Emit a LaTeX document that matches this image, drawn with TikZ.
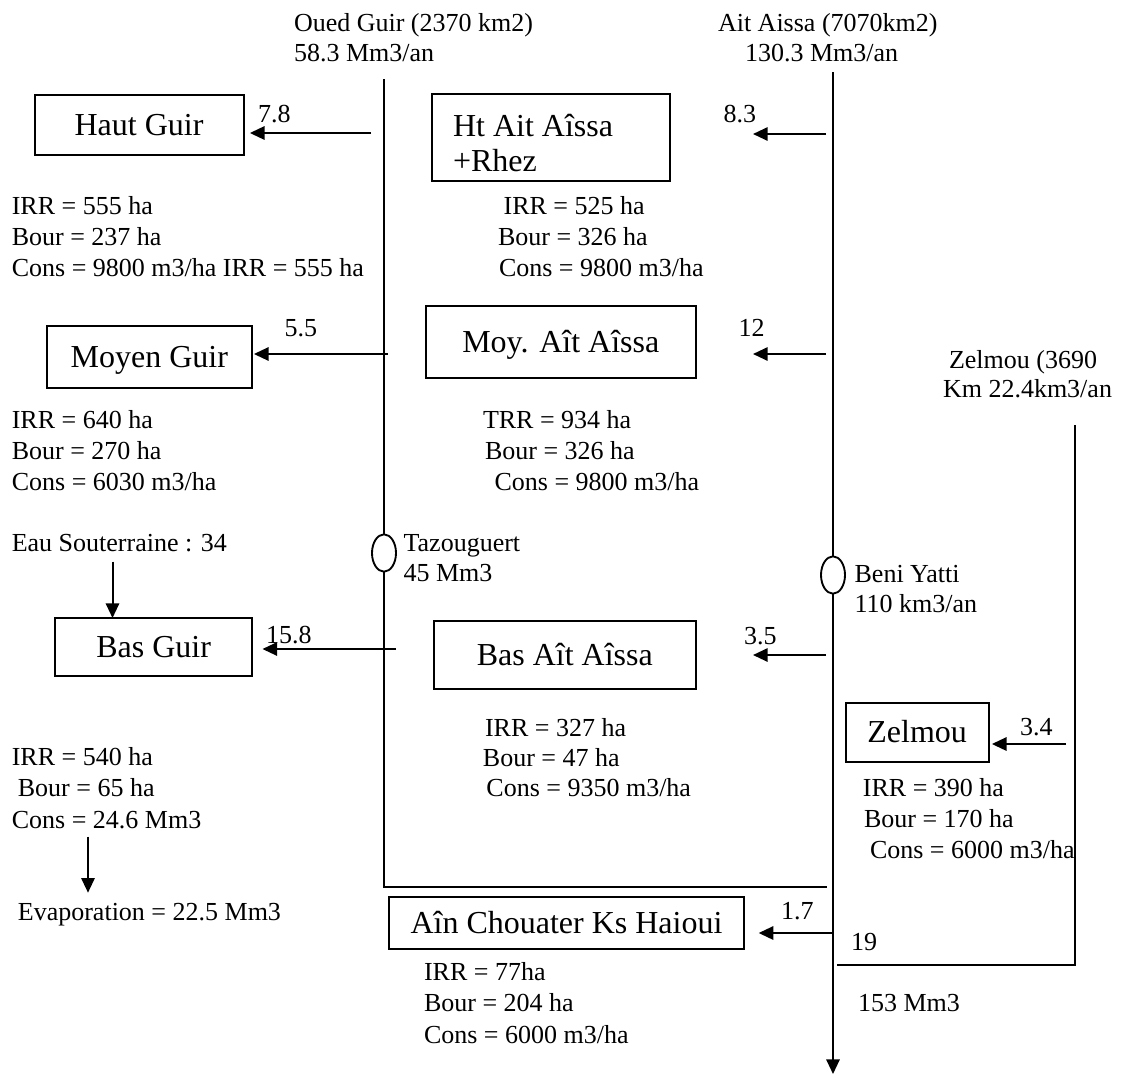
\documentclass[tikz,border=0pt]{standalone}
\usepackage{fontspec}
\setmainfont{Liberation Serif}
\usetikzlibrary{arrows.meta,shapes.geometric}
\begin{document}
\begin{tikzpicture}[x=0.75pt,y=-0.75pt,
  every node/.style={inner sep=0pt, outer sep=0pt},
  txt/.style={anchor=base west, font=\fontsize{19.5}{23}\selectfont},
  box/.style={draw, line width=1.5pt, rectangle, font=\fontsize{24}{28}\selectfont, text height=15.8pt, text depth=0pt},
  boxtxt/.style={anchor=base west, font=\fontsize{24}{28}\selectfont},
  river/.style={line width=1.5pt},
  thinriver/.style={line width=1pt},
  arr/.style={line width=1.5pt, -{Triangle[length=11pt,width=10pt]}},
  dam/.style={draw, ellipse, fill=white, line width=1.4pt, minimum width=18pt, minimum height=28pt}
]
\useasboundingbox (0,0) rectangle (1123,1075);

% ---------- boxes ----------
\node[box, minimum width=156.75pt, minimum height=45.2pt] (hautguir) at (139,125) {Haut Guir};
\node[box, minimum width=153.75pt, minimum height=46.3pt] (moyenguir) at (149.3,356.8) {Moyen Guir};
\node[box, minimum width=147.3pt, minimum height=43.5pt] (basguir) at (153.6,647) {Bas Guir};
\node[box, minimum width=178.5pt, minimum height=65.25pt] (htbox) at (551,137.5) {};
\node[boxtxt] (httext1) at (453,136) {Ht Ait Aîssa};
\node[boxtxt] (httext2) at (453,171) {+Rhez};
\node[box, minimum width=202.3pt, minimum height=54pt] (moyait) at (560.8,342) {Moy. Aît Aîssa};
\node[box, minimum width=196.3pt, minimum height=51pt] (basait) at (564.8,655) {Bas Aît Aîssa};
\node[box, minimum width=107.2pt, minimum height=44pt] (zelbox) at (917.1,732.3) {Zelmou};
\node[box, minimum width=266.25pt, minimum height=39.5pt] (aincbox) at (566.5,923) {Aîn Chouater Ks Haioui};

% ---------- rivers ----------
\coordinate (gtop) at (384,79);
\coordinate (gcorner) at (384,887);
\coordinate (gend) at (827,887);
\draw[river] (gtop) -- (gcorner) -- (gend);

\coordinate (atop) at (833,72);
\coordinate (abot) at (833,1074);
\draw[arr] (atop) -- (abot);

\coordinate (ztop) at (1075,425);
\coordinate (zcorner) at (1075,965);
\coordinate (zend) at (836.8,965);
\draw[thinriver] (ztop) -- (zcorner) -- (zend);

\node[dam] (taz) at (384,553) {};
\node[dam] (beni) at (833,575) {};

% ---------- withdrawals ----------
\coordinate (g1) at (371,133);
\draw[arr, shorten >=4.8pt] (g1) -- (g1 -| hautguir.east);
\coordinate (a1) at (826,134);
\coordinate (a1t) at (753,134);
\draw[arr] (a1) -- (a1t);
\coordinate (g2) at (387.5,354);
\draw[arr, shorten >=1.6pt] (g2) -- (g2 -| moyenguir.east);
\coordinate (a2) at (826,354);
\coordinate (a2t) at (753,354);
\draw[arr] (a2) -- (a2t);
\coordinate (g3) at (396,649);
\draw[arr, shorten >=8pt] (g3) -- (g3 -| basguir.east);
\coordinate (a3) at (826,655);
\coordinate (a3t) at (753,655);
\draw[arr] (a3) -- (a3t);
\coordinate (z1) at (1066,744);
\draw[arr, shorten >=2.5pt] (z1) -- (z1 -| zelbox.east);
\coordinate (a4) at (833,933);
\draw[arr, shorten >=11pt] (a4) -- (a4 -| aincbox.east);

% ---------- groundwater / evaporation ----------
\node[txt] (eau) at (11.8,551.7) {Eau Souterraine : 34};
\coordinate (eaus) at (112.5,561.7);
\draw[arr] (eaus) -- (eaus |- basguir.north);
\coordinate (evs) at (88,836.7);
\coordinate (eve) at (88,892.7);
\draw[arr] (evs) -- (eve);
\node[txt] (evap) at (17.9,920) {Evaporation = 22.5 Mm3};

% ---------- headers ----------
\node[txt] (og1) at (294,31) {Oued Guir (2370 km2)};
\node[txt] (og2) at (294,61) {58.3 Mm3/an};
\node[txt] (aa1) at (718,31) {Ait Aissa (7070km2)};
\node[txt] (aa2) at (745,61) {130.3 Mm3/an};
\node[txt] (zh1) at (949,368.3) {Zelmou (3690};
\node[txt] (zh2) at (943,397.3) {Km 22.4km3/an};

% ---------- flow labels ----------
\node[txt] (l78) at (258,122) {7.8};
\node[txt] (l83) at (723.6,122) {8.3};
\node[txt] (l55) at (284.6,336.7) {5.5};
\node[txt] (l12) at (738.6,336.7) {12};
\node[txt] (l158) at (266,643.3) {15.8};
\node[txt] (l35) at (744,644) {3.5};
\node[txt] (l34) at (1020,735) {3.4};
\node[txt] (l17) at (781,919.3) {1.7};
\node[txt] (l19) at (851,950.7) {19};
\node[txt] (l153) at (858,1011.7) {153 Mm3};

% ---------- dams ----------
\node[txt] (taz1) at (403.6,551.7) {Tazouguert};
\node[txt] (taz2) at (403.6,581.7) {45 Mm3};
\node[txt] (beni1) at (854.6,582.7) {Beni Yatti};
\node[txt] (beni2) at (854.6,612.3) {110 km3/an};

% ---------- statistics ----------
\node[txt] (s1a) at (11.8,214) {IRR = 555 ha};
\node[txt] (s1b) at (11.8,245) {Bour = 237 ha};
\node[txt] (s1c) at (11.8,276) {Cons = 9800 m3/ha IRR = 555 ha};

\node[txt] (s2a) at (503.6,214) {IRR = 525 ha};
\node[txt] (s2b) at (498,245) {Bour = 326 ha};
\node[txt] (s2c) at (499,276) {Cons = 9800 m3/ha};

\node[txt] (s3a) at (11.8,428.3) {IRR = 640 ha};
\node[txt] (s3b) at (11.8,459.3) {Bour = 270 ha};
\node[txt] (s3c) at (11.8,490) {Cons = 6030 m3/ha};

\node[txt] (s4a) at (483,428.3) {TRR = 934 ha};
\node[txt] (s4b) at (485,459.3) {Bour = 326 ha};
\node[txt] (s4c) at (494.6,490) {Cons = 9800 m3/ha};

\node[txt] (s5a) at (11.8,765) {IRR = 540 ha};
\node[txt] (s5b) at (17.9,796.7) {Bour = 65 ha};
\node[txt] (s5c) at (11.8,828.3) {Cons = 24.6 Mm3};

\node[txt] (s6a) at (485,736) {IRR = 327 ha};
\node[txt] (s6b) at (482.9,766) {Bour = 47 ha};
\node[txt] (s6c) at (486.4,796.7) {Cons = 9350 m3/ha};

\node[txt] (s7a) at (862.9,796.7) {IRR = 390 ha};
\node[txt] (s7b) at (864,827.3) {Bour = 170 ha};
\node[txt] (s7c) at (870,858.3) {Cons = 6000 m3/ha};

\node[txt] (s8a) at (424,980.7) {IRR = 77ha};
\node[txt] (s8b) at (424,1011.7) {Bour = 204 ha};
\node[txt] (s8c) at (424,1043.3) {Cons = 6000 m3/ha};
\end{tikzpicture}
\end{document}
